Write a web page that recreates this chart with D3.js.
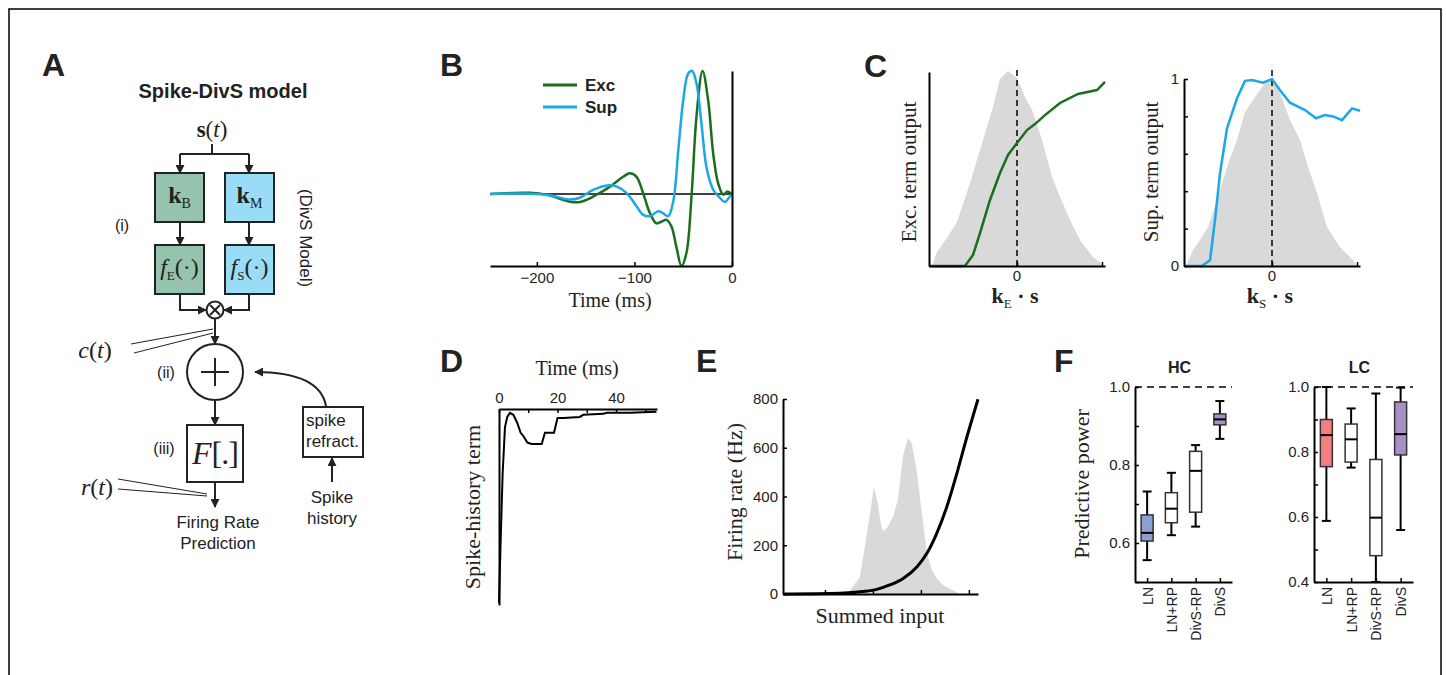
<!DOCTYPE html>
<html>
<head>
<meta charset="utf-8">
<script src="https://cdn.jsdelivr.net/npm/d3@7"></script>
<style>
  body { margin: 0; background: #fff; }
  svg { display: block; }
</style>
</head>
<body>
<svg id="fig" width="1446" height="675"></svg>
<script>
// ---- data ----
// B: temporal filters (time in ms, filter in units of peak)
var excTime = [-248, -207, -190, -166, -156, -142, -125, -111.6, -104.6, -97.8, -91, -84, -77.5, -72.3, -67.2, -62, -57, -51.8, -46.7, -41.5, -36.4, -30.2, -24.4, -19.3, -14.2, -9, -4.6, -0.5];
var excFilter = [0, 0.01, -0.005, -0.062, -0.065, -0.02, 0.06, 0.14, 0.168, 0.14, 0.005, -0.157, -0.238, -0.225, -0.21, -0.265, -0.43, -0.585, -0.48, -0.02, 0.63, 1.0, 0.76, 0.33, 0.087, -0.005, 0.02, 0];
var supTime = [-248, -207, -187, -166, -156, -142, -128, -118, -107.9, -97.8, -91, -84, -75.5, -70.5, -65.3, -60, -55, -50, -44.9, -40.8, -36.4, -31.3, -26.2, -19.3, -12.5, -7.4, -2.2, -0.5];
var supFilter = [0, 0.003, -0.01, -0.045, -0.03, 0.035, 0.07, 0.06, 0.008, -0.1, -0.17, -0.18, -0.14, -0.157, -0.18, -0.05, 0.36, 0.76, 0.98, 1.0, 0.9, 0.575, 0.22, 0.035, -0.03, -0.065, -0.02, -0.005];
var bTicks = [-200, -100, 0];

// C: stimulus distributions and nonlinearities
var excHistX = [-4.25, -4.0, -3.5, -3.0, -2.35, -1.7, -1.2, -0.85, -0.45, 0, 0.4, 0.8, 1.25, 1.75, 2.15, 2.65, 3.15, 3.8, 4.2, 4.3];
var excHistY = [0, 0.072, 0.144, 0.226, 0.426, 0.646, 0.815, 0.959, 1.0, 0.964, 0.867, 0.79, 0.646, 0.456, 0.354, 0.236, 0.133, 0.046, 0.015, 0];
var excNlX = [-4.4, -2.6, -2.2, -1.85, -1.35, -0.85, -0.45, 0, 0.5, 0.9, 1.4, 2.15, 3.05, 4.0, 4.4];
var excNlY = [0, 0, 0.059, 0.176, 0.353, 0.497, 0.594, 0.658, 0.727, 0.759, 0.807, 0.872, 0.92, 0.941, 0.984];
var supHistX = [-4.3, -3.95, -3.6, -3.2, -2.7, -2.25, -1.75, -1.35, -0.85, -0.35, 0, 0.4, 0.9, 1.4, 1.8, 2.25, 2.75, 3.4, 4.05, 4.25];
var supHistY = [0, 0.082, 0.133, 0.2, 0.354, 0.508, 0.646, 0.79, 0.867, 0.938, 0.954, 0.887, 0.749, 0.646, 0.508, 0.374, 0.2, 0.097, 0.031, 0];
var supNlX = [-4.35, -3.5, -3.1, -2.85, -2.6, -2.25, -1.75, -1.35, -1.0, -0.45, 0, 0.4, 0.9, 1.65, 2.2, 2.65, 3.05, 3.5, 4.0, 4.4];
var supNlY = [0, 0, 0.03, 0.246, 0.495, 0.736, 0.897, 0.99, 0.995, 0.98, 1.0, 0.94, 0.873, 0.834, 0.79, 0.807, 0.8, 0.78, 0.843, 0.83];
var supTicks = [0, 0.2, 0.4, 0.6, 0.8, 1];
var cTicksX = [0, 4.25];

// D: spike-history term
var histTime = [0, 0.57, 1.25, 2.05, 2.85, 3.75, 4.9, 6.25, 7.4, 8.3, 9.7, 11.15, 14.6, 15.7, 18.8, 20, 22, 27.6, 28.8, 35.6, 36.8, 44.7, 53.8];
var histTerm = [-0.99, -0.665, -0.32, -0.082, -0.03, -0.01, -0.02, -0.062, -0.113, -0.129, -0.163, -0.17, -0.17, -0.112, -0.112, -0.036, -0.036, -0.031, -0.02, -0.015, -0.009, -0.009, -0.004];
var dTicks = [0, 10, 20, 30, 40, 50];

// E: spiking nonlinearity
var eInput = [0.125, 1.31, 1.79, 2.08, 2.35, 2.63, 2.92, 3.125, 3.33, 3.54, 3.75, 3.96, 4.19];
var eRate = [0, 3, 10, 19, 37, 64, 112, 167, 249, 358, 495, 645, 799];
var eHistX = [1.46, 1.58, 1.73, 1.83, 1.94, 2.02, 2.1, 2.17, 2.21, 2.31, 2.42, 2.52, 2.63, 2.73, 2.81, 2.92, 3.02, 3.125, 3.23, 3.33, 3.46, 3.67, 3.81];
var eHistY = [0, 30, 71, 194, 331, 440, 372, 283, 256, 276, 317, 386, 570, 639, 618, 495, 331, 167, 98, 64, 37, 14, 0];
var eTicksY = [0, 200, 400, 600, 800];
var eTicksX = [1, 2, 3, 4];

// F: predictive power
var models = ["LN", "LN+RP", "DivS-RP", "DivS"];
var hcHigh = [0.732, 0.78, 0.851, 0.964];
var hcQ3 = [0.672, 0.729, 0.835, 0.931];
var hcMedian = [0.626, 0.688, 0.785, 0.917];
var hcQ1 = [0.605, 0.652, 0.679, 0.903];
var hcLow = [0.556, 0.62, 0.642, 0.867];
var lcHigh = [1.0, 0.934, 0.98, 0.998];
var lcQ3 = [0.9, 0.886, 0.777, 0.954];
var lcMedian = [0.852, 0.839, 0.598, 0.855];
var lcQ1 = [0.755, 0.769, 0.481, 0.791];
var lcLow = [0.588, 0.752, 0.4, 0.56];
var hcTicks = [0.5, 0.6, 0.7, 0.8, 0.9, 1.0];
var lcTicks = [0.4, 0.5, 0.6, 0.7, 0.8, 0.9, 1.0];

// ---- styles ----
var SANS = '"Liberation Sans", Arial, Helvetica, sans-serif';
var SERIF = '"Liberation Serif", "Times New Roman", serif';
var ink = "#222";
var excColor = "#1a6e1e", supColor = "#1ca8e6", grey = "#d9d9d9";
var hcFill = ["#8d9fd0", "#fff", "#fff", "#a690c6"];
var lcFill = ["#f47f7f", "#fff", "#fff", "#a690c6"];

var svg = d3.select("#fig");

svg.append("marker")
    .attr("id", "arr").attr("viewBox", "0 0 10 10")
    .attr("refX", 9).attr("refY", 5)
    .attr("markerWidth", 9).attr("markerHeight", 9)
    .attr("markerUnits", "userSpaceOnUse").attr("orient", "auto")
  .append("path").attr("d", "M0,0L10,5L0,10z").attr("fill", ink);

// figure frame
svg.append("path").attr("d", "M9,680V9H1441V680")
    .attr("fill", "none").attr("stroke", "#000").attr("stroke-width", 1.5);

function label(g, x, y, s, size, opts) {
  opts = opts || {};
  var t = g.append("text").attr("x", x).attr("y", y)
      .attr("font-family", opts.serif ? SERIF : SANS)
      .attr("font-size", size)
      .attr("font-weight", opts.bold ? "bold" : null)
      .attr("font-style", opts.italic ? "italic" : null)
      .attr("text-anchor", opts.anchor || "middle")
      .attr("fill", ink)
      .text(s);
  if (opts.rotate) t.attr("transform", "rotate(" + opts.rotate + "," + x + "," + y + ")");
  return t;
}

function styleAxis(g) {
  g.select(".domain").attr("stroke", "#000").attr("stroke-width", 2);
  g.selectAll(".tick line").attr("stroke", "#000").attr("stroke-width", 1.5);
  g.selectAll(".tick text").attr("font-family", SANS).attr("font-size", 15).attr("fill", ink);
}

// panel letters
[["A", 42, 76], ["B", 440, 76], ["C", 864, 77], ["D", 440, 372], ["E", 696, 372], ["F", 1054, 372]]
  .forEach(function (p) { label(svg, p[1], p[2], p[0], 32, {bold: true, anchor: "start"}); });

// ================= A: model diagram =================
var A = svg.append("g");
function wire(pts, arrow) {
  A.append("path").attr("d", d3.line()(pts))
      .attr("fill", "none").attr("stroke", ink).attr("stroke-width", 2)
      .attr("marker-end", arrow ? "url(#arr)" : null);
}
function thin(pts) {
  A.append("path").attr("d", d3.line()(pts))
      .attr("fill", "none").attr("stroke", ink).attr("stroke-width", 1);
}

label(A, 223, 98, "Spike-DivS model", 20, {bold: true});
var st = label(A, 212, 137, "", 23, {serif: true});
st.append("tspan").attr("font-weight", "bold").text("s");
st.append("tspan").text("(");
st.append("tspan").attr("font-style", "italic").text("t");
st.append("tspan").text(")");

wire([[212, 144], [212, 154]]);
wire([[180, 154], [249, 154]]);
wire([[180, 154], [180, 173]], true);
wire([[249, 154], [249, 173]], true);

var boxes = [
  {x: 155, y: 173, fill: "#96c3ad", main: "k", sub: "B", kind: "k"},
  {x: 225, y: 173, fill: "#9adcf6", main: "k", sub: "M", kind: "k"},
  {x: 155, y: 245, fill: "#96c3ad", main: "f", sub: "E", kind: "f"},
  {x: 225, y: 245, fill: "#9adcf6", main: "f", sub: "S", kind: "f"}
];
boxes.forEach(function (b) {
  A.append("rect").attr("x", b.x).attr("y", b.y).attr("width", 49).attr("height", 49)
      .attr("fill", b.fill).attr("stroke", ink).attr("stroke-width", 2);
  var cx = b.x + 24.5;
  var t = label(A, cx, b.y + 30, "", 24, {serif: true});
  if (b.kind === "k") {
    t.append("tspan").attr("font-weight", "bold").text(b.main);
    t.append("tspan").attr("font-size", 14).attr("dy", 5).text(b.sub);
  } else {
    t.append("tspan").attr("font-style", "italic").text(b.main);
    t.append("tspan").attr("font-size", 13).attr("dy", 5).text(b.sub);
    t.append("tspan").attr("dy", -5).text("(·)");
  }
});
wire([[180, 222], [180, 245]], true);
wire([[249, 222], [249, 245]], true);

// multiplication node
wire([[180, 294], [180, 310], [206, 310]], true);
wire([[249, 294], [249, 310], [224, 310]], true);
A.append("circle").attr("cx", 215).attr("cy", 310).attr("r", 8.5)
    .attr("fill", "#fff").attr("stroke", ink).attr("stroke-width", 2);
wire([[210, 305], [220, 315]]);
wire([[220, 305], [210, 315]]);
wire([[215, 319], [215, 344]], true);

label(A, 122, 231, "(i)", 16);
var ct = label(A, 95, 358, "", 24, {serif: true});
ct.append("tspan").attr("font-style", "italic").text("c");
ct.append("tspan").text("(");
ct.append("tspan").attr("font-style", "italic").text("t");
ct.append("tspan").text(")");
thin([[131, 344], [213, 329]]);
thin([[134, 353], [213, 333]]);

// sum node
A.append("circle").attr("cx", 215).attr("cy", 372).attr("r", 28)
    .attr("fill", "#fff").attr("stroke", ink).attr("stroke-width", 2);
wire([[201, 372], [229, 372]]);
wire([[215, 358], [215, 386]]);
label(A, 166, 378, "(ii)", 16);
wire([[215, 400], [215, 425]], true);

// output nonlinearity
A.append("rect").attr("x", 187).attr("y", 425).attr("width", 56).attr("height", 57)
    .attr("fill", "#fff").attr("stroke", ink).attr("stroke-width", 2);
var ft = label(A, 215, 464, "", 32, {serif: true});
ft.append("tspan").attr("font-style", "italic").text("F");
ft.append("tspan").attr("letter-spacing", -1).text("[.]");
label(A, 164, 454, "(iii)", 16);
wire([[215, 482], [215, 507]], true);
var rt = label(A, 97, 495, "", 24, {serif: true});
rt.append("tspan").attr("font-style", "italic").text("r");
rt.append("tspan").text("(");
rt.append("tspan").attr("font-style", "italic").text("t");
rt.append("tspan").text(")");
thin([[118, 479], [207, 494]]);
thin([[118, 489], [207, 496]]);
label(A, 218, 528, "Firing Rate", 17);
label(A, 218, 549, "Prediction", 17);

// spike refractory input
A.append("rect").attr("x", 303).attr("y", 407).attr("width", 60).attr("height", 50)
    .attr("fill", "#fff").attr("stroke", ink).attr("stroke-width", 2);
label(A, 306, 426, "spike", 17, {anchor: "start"});
label(A, 306, 447, "refract.", 17, {anchor: "start"});
wire([[332, 482], [332, 458]], true);
label(A, 332, 503, "Spike", 17);
label(A, 332, 524, "history", 17);
A.append("path").attr("d", "M326,406C322,384 300,372 255,372")
    .attr("fill", "none").attr("stroke", ink).attr("stroke-width", 2)
    .attr("marker-end", "url(#arr)");
label(A, 300, 238, "(DivS Model)", 17, {rotate: 90});

// ================= B: filters =================
var B = svg.append("g");
var bx = d3.scaleLinear().domain([-248, 0]).range([490, 732]);
var by = d3.scaleLinear().domain([-0.585, 1.0]).range([266, 71]);
var bLine = d3.line().curve(d3.curveCatmullRom.alpha(0.5))
    .x(function (d) { return bx(d[0]); }).y(function (d) { return by(d[1]); });

B.append("line").attr("x1", bx(-248)).attr("x2", bx(0)).attr("y1", by(0)).attr("y2", by(0))
    .attr("stroke", "#000").attr("stroke-width", 1.5);
B.append("path").datum(d3.zip(excTime, excFilter)).attr("d", bLine)
    .attr("fill", "none").attr("stroke", excColor).attr("stroke-width", 2.5);
B.append("path").datum(d3.zip(supTime, supFilter)).attr("d", bLine)
    .attr("fill", "none").attr("stroke", supColor).attr("stroke-width", 2.5);

B.append("g").attr("transform", "translate(0,266)")
    .call(d3.axisBottom(bx).tickValues(bTicks).tickSizeInner(-4).tickSizeOuter(0).tickPadding(6))
    .call(styleAxis);
B.append("g").attr("transform", "translate(732,0)")
    .call(d3.axisRight(by).tickValues([]).tickSizeOuter(0))
    .call(styleAxis);
label(B, 610, 307, "Time (ms)", 20, {serif: true});

[[excColor, "Exc", 85], [supColor, "Sup", 107]].forEach(function (l) {
  B.append("line").attr("x1", 543).attr("x2", 577).attr("y1", l[2]).attr("y2", l[2])
      .attr("stroke", l[0]).attr("stroke-width", 3);
  label(B, 585, l[2] + 6, l[1], 17, {bold: true, anchor: "start"});
});

// ================= C: nonlinearities =================
function drawC(x0, histX, histY, nlX, nlY, color, ylab, labX, sub, withTicks) {
  var g = svg.append("g");
  var x = d3.scaleLinear().domain([-4.4, 4.4]).range([x0, x0 + 176]);
  var y = d3.scaleLinear().domain([0, 1]).range([266, 79]);
  var yh = d3.scaleLinear().domain([0, 1]).range([266, 71]);

  g.append("path").datum(d3.zip(histX, histY))
      .attr("d", d3.area().x(function (d) { return x(d[0]); }).y0(266).y1(function (d) { return yh(d[1]); }))
      .attr("fill", grey);
  g.append("line").attr("x1", x(0)).attr("x2", x(0)).attr("y1", 266).attr("y2", 70)
      .attr("stroke", "#000").attr("stroke-width", 1.5).attr("stroke-dasharray", "6,4");
  g.append("path").datum(d3.zip(nlX, nlY))
      .attr("d", d3.line().x(function (d) { return x(d[0]); }).y(function (d) { return y(d[1]); }))
      .attr("fill", "none").attr("stroke", color).attr("stroke-width", 2.5);

  g.append("g").attr("transform", "translate(0,266)")
      .call(d3.axisBottom(x).tickValues(cTicksX).tickSizeInner(-4).tickSizeOuter(0).tickFormat(""))
      .call(styleAxis);
  label(g, x(cTicksX[0]), 281, String(cTicksX[0]), 15);
  if (withTicks) {
    g.append("g").attr("transform", "translate(" + x0 + ",0)")
        .call(d3.axisLeft(y).tickValues(supTicks).tickSizeInner(-4).tickSizeOuter(0).tickPadding(5)
          .tickFormat(function (d) { return (d === 0 || d === 1) ? d : ""; }))
        .call(styleAxis);
  } else {
    var ya = d3.scaleLinear().domain([0, 1]).range([266, 72]);
    g.append("g").attr("transform", "translate(" + x0 + ",0)")
        .call(d3.axisLeft(ya).tickValues([]).tickSizeOuter(0))
        .call(styleAxis);
  }
  label(g, labX, 172, ylab, 21, {serif: true, rotate: -90});
  var t = label(g, x(0) - 2, 303, "", 22, {serif: true});
  t.append("tspan").attr("font-weight", "bold").text("k");
  t.append("tspan").attr("font-size", 13).attr("dy", 5).text(sub);
  t.append("tspan").attr("dy", -5).attr("font-weight", "bold").text(" · s");
}
drawC(929, excHistX, excHistY, excNlX, excNlY, excColor, "Exc. term output", 916, "E", false);
drawC(1184, supHistX, supHistY, supNlX, supNlY, supColor, "Sup. term output", 1158, "S", true);

// ================= D: spike history =================
var D = svg.append("g");
var dx = d3.scaleLinear().domain([0, 54]).range([499, 657]);
var dy = d3.scaleLinear().domain([-1.0, 0.01]).range([605, 409]);
D.append("path").datum(d3.zip(histTime, histTerm))
    .attr("d", d3.line().x(function (d) { return dx(d[0]); }).y(function (d) { return dy(d[1]); }))
    .attr("fill", "none").attr("stroke", "#000").attr("stroke-width", 2);
D.append("g").attr("transform", "translate(0,409)")
    .call(d3.axisTop(dx).tickValues(dTicks).tickSizeInner(-4).tickSizeOuter(0).tickPadding(6)
      .tickFormat(function (d) { return d % 20 === 0 ? d : ""; }))
    .call(styleAxis);
D.append("g").attr("transform", "translate(499,0)")
    .call(d3.axisLeft(dy).tickValues([]).tickSizeOuter(0))
    .call(styleAxis);
label(D, 577, 375, "Time (ms)", 20, {serif: true});
label(D, 480, 507, "Spike-history term", 22, {serif: true, rotate: -90});

// ================= E: spiking nonlinearity =================
var E = svg.append("g");
var ex = d3.scaleLinear().domain([0.125, 4.19]).range([783, 978]);
var ey = d3.scaleLinear().domain([0, 800]).range([594, 399]);
E.append("path").datum(d3.zip(eHistX, eHistY))
    .attr("d", d3.area().x(function (d) { return ex(d[0]); }).y0(594).y1(function (d) { return ey(d[1]); }))
    .attr("fill", grey);
E.append("path").datum(d3.zip(eInput, eRate))
    .attr("d", d3.line().curve(d3.curveMonotoneX).x(function (d) { return ex(d[0]); }).y(function (d) { return ey(d[1]); }))
    .attr("fill", "none").attr("stroke", "#000").attr("stroke-width", 3);
E.append("g").attr("transform", "translate(0,594)")
    .call(d3.axisBottom(ex).tickValues(eTicksX).tickSizeInner(-4).tickSizeOuter(0).tickFormat(""))
    .call(styleAxis);
E.append("g").attr("transform", "translate(783,0)")
    .call(d3.axisLeft(ey).tickValues(eTicksY).tickSizeInner(-4).tickSizeOuter(0).tickPadding(5))
    .call(styleAxis);
label(E, 742, 492, "Firing rate (Hz)", 22, {serif: true, rotate: -90});
label(E, 880, 623, "Summed input", 22, {serif: true});

// ================= F: predictive power =================
function drawF(x0, x1, lo, ticks, stats, fills, title) {
  var g = svg.append("g");
  var x = d3.scalePoint().domain(models).range([x0, x1]).padding(0.5);
  var y = d3.scaleLinear().domain([lo, 1.0]).range([582, 387]);

  g.append("line").attr("x1", x0).attr("x2", x1).attr("y1", y(1)).attr("y2", y(1))
      .attr("stroke", "#000").attr("stroke-width", 1.5).attr("stroke-dasharray", "7,5");

  var items = g.selectAll(".box").data(models).enter().append("g");
  items.append("line")
      .attr("x1", function (d) { return x(d); }).attr("x2", function (d) { return x(d); })
      .attr("y1", function (d, i) { return y(stats.low[i]); })
      .attr("y2", function (d, i) { return y(stats.high[i]); })
      .attr("stroke", "#000").attr("stroke-width", 2);
  ["low", "high"].forEach(function (k) {
    items.append("line")
        .attr("x1", function (d) { return x(d) - 4.5; }).attr("x2", function (d) { return x(d) + 4.5; })
        .attr("y1", function (d, i) { return y(stats[k][i]); })
        .attr("y2", function (d, i) { return y(stats[k][i]); })
        .attr("stroke", "#000").attr("stroke-width", 2);
  });
  items.append("rect")
      .attr("x", function (d) { return x(d) - 6; }).attr("width", 12)
      .attr("y", function (d, i) { return y(stats.q3[i]); })
      .attr("height", function (d, i) { return y(stats.q1[i]) - y(stats.q3[i]); })
      .attr("fill", function (d, i) { return fills[i]; })
      .attr("stroke", "#333").attr("stroke-width", 1.5);
  items.append("line")
      .attr("x1", function (d) { return x(d) - 6; }).attr("x2", function (d) { return x(d) + 6; })
      .attr("y1", function (d, i) { return y(stats.median[i]); })
      .attr("y2", function (d, i) { return y(stats.median[i]); })
      .attr("stroke", "#000").attr("stroke-width", 2);

  g.append("g").attr("transform", "translate(" + x0 + ",0)")
      .call(d3.axisLeft(y).tickValues(ticks).tickSizeInner(-4).tickSizeOuter(0).tickPadding(5)
        .tickFormat(function (d) { return Math.round(d * 10) % 2 === 0 ? d3.format(".1f")(d) : ""; }))
      .call(styleAxis);
  var xa = g.append("g").attr("transform", "translate(0,582)")
      .call(d3.axisBottom(x).tickSizeInner(-4).tickSizeOuter(0))
      .call(styleAxis);
  xa.selectAll(".tick text")
      .attr("transform", "rotate(-90)").attr("text-anchor", "end")
      .attr("x", -5).attr("y", 0).attr("dy", "0.35em").attr("font-size", 14);
  label(g, (x0 + x1) / 2 - 4, 373, title, 16, {bold: true});
}
drawF(1135, 1232, 0.5, hcTicks,
      {low: hcLow, q1: hcQ1, median: hcMedian, q3: hcQ3, high: hcHigh}, hcFill, "HC");
drawF(1314, 1413, 0.4, lcTicks,
      {low: lcLow, q1: lcQ1, median: lcMedian, q3: lcQ3, high: lcHigh}, lcFill, "LC");
label(svg, 1089, 484, "Predictive power", 22, {serif: true, rotate: -90});
</script>
</body>
</html>
